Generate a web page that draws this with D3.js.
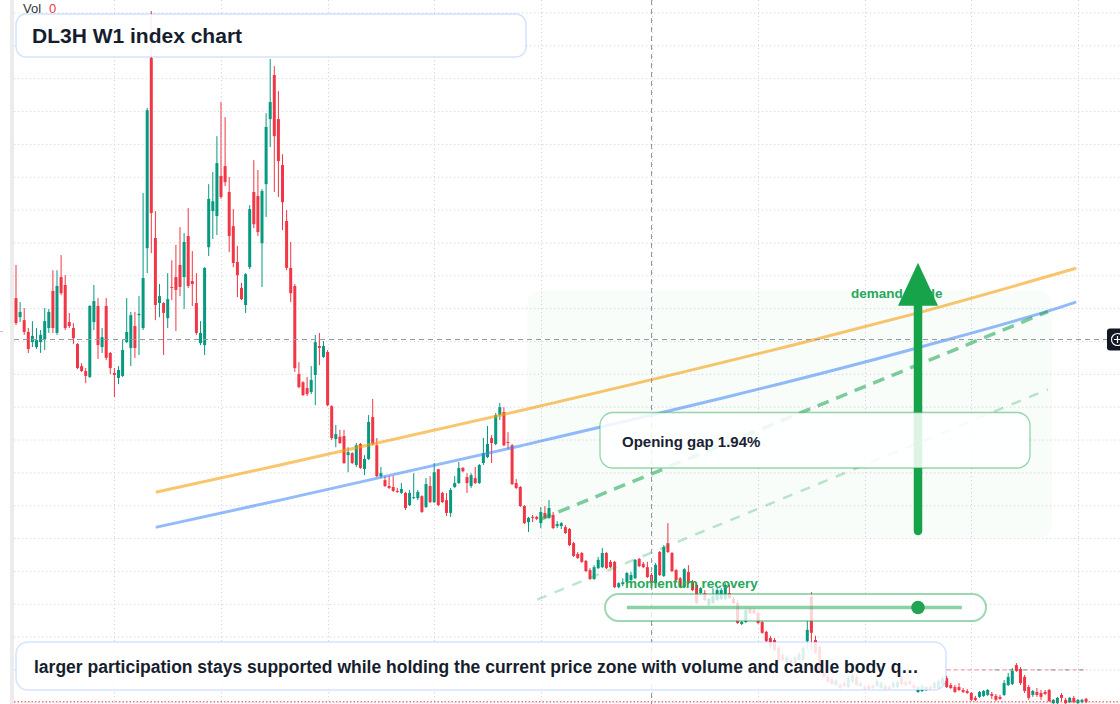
<!DOCTYPE html>
<html>
<head>
<meta charset="utf-8">
<script src="https://cdn.jsdelivr.net/npm/d3@7"></script>
<style>
html, body { margin: 0; padding: 0; background: #fff; overflow: hidden; }
svg { display: block; font-family: "Liberation Sans", Arial, sans-serif; }
</style>
</head>
<body>
<script>
// weekly candles, oldest first
var opens = [163.2,157.4,156.5,152.9,149.8,148.3,149.8,150.7,154.1,165.4,152.6,169.6,167.2,155.9,154.1,149.2,142.5,141.0,139.2,155.9,
160.8,148.3,160.8,146.5,140.4,138.9,139.5,149.8,148.0,154.7,158.0,154.1,178.4,236.3,181.5,161.7,161.7,157.1,166.6,169.6,
173.3,169.6,182.1,168.4,161.7,149.5,148.9,178.7,189.7,188.2,200.4,203.4,195.5,185.1,174.2,166.3,161.1,172.6,195.5,194.3,
179.9,197.9,217.7,231.1,217.7,203.7,186.7,172.4,166.9,140.1,137.6,135.8,134.6,139.8,148.6,145.3,146.8,130.3,120.3,121.0,
121.2,115.4,116.0,112.4,118.8,111.2,114.2,127.0,118.4,109.0,107.8,106.0,105.7,104.5,103.9,103.9,100.2,102.3,102.3,102.9,
99.6,106.0,101.1,111.1,103.9,101.7,97.8,105.7,106.9,111.5,108.7,106.0,108.4,106.9,113.0,114.8,120.6,118.8,127.6,128.5,
119.4,118.4,106.9,105.7,99.9,95.0,96.6,96.6,94.7,97.8,96.3,97.2,93.8,93.8,93.5,92.9,88.6,85.3,85.6,83.2,
80.4,77.7,81.0,81.3,85.6,82.9,82.9,75.2,76.1,76.7,77.4,77.9,83.8,82.3,81.3,78.9,76.4,85.9,78.6,88.6,
85.6,80.4,77.9,75.2,79.8,76.7,75.9,73.4,73.4,69.8,70.4,71.3,71.6,71.6,73.4,71.6,70.4,64.0,64.6,68.6,
68.2,67.3,64.6,61.6,59.7,59.1,56.7,54.5,52.4,53.0,52.1,53.0,53.0,58.8,72.2,59.1,57.0,49.1,47.9,47.2,
45.4,45.4,46.0,44.8,46.3,47.9,45.1,44.8,45.1,45.1,45.1,44.5,45.1,44.8,44.8,44.8,47.5,46.3,46.6,45.4,
43.3,43.6,43.9,44.8,44.5,44.5,45.7,47.5,45.4,44.8,44.8,43.9,43.6,43.0,41.5,41.8,42.1,42.4,42.7,42.1,
41.8,42.4,45.4,45.7,51.5,50.3,47.9,44.8,42.4,43.3,43.0,43.3,43.9,39.9,39.9,42.4,40.9,40.2,41.5,39.9,
40.2,41.2];
var highs = [173.3,162.0,160.2,154.1,156.2,154.1,153.5,160.2,159.9,171.7,171.7,176.3,170.2,158.7,155.6,149.5,143.4,141.9,161.1,167.2,
163.2,154.1,163.2,146.8,141.9,142.5,150.4,163.2,159.0,159.0,163.8,195.2,221.1,250.6,189.7,167.5,162.0,170.8,174.7,179.4,
184.8,183.0,190.6,177.5,170.8,156.2,172.6,197.9,201.6,212.5,222.9,218.3,200.1,190.3,179.1,167.8,170.8,191.5,205.2,202.2,
196.4,219.5,236.0,233.8,226.2,207.0,190.0,180.3,167.5,143.7,137.9,139.2,142.5,152.0,152.6,150.1,147.4,130.6,124.6,123.1,
123.1,117.8,116.3,119.1,119.1,115.4,127.6,132.5,120.6,111.8,109.0,109.0,109.0,105.4,106.9,104.2,104.8,109.9,104.8,103.2,
108.4,109.0,113.0,111.2,104.2,103.9,105.4,109.0,113.3,111.8,109.9,109.9,111.8,112.7,120.6,124.3,121.5,128.2,131.3,130.0,
122.4,118.8,108.1,106.0,100.2,96.6,97.2,96.9,99.6,99.9,101.7,98.1,95.3,95.0,94.1,93.2,89.0,85.9,85.9,83.5,
81.0,81.9,84.4,87.1,85.9,83.5,83.2,76.7,77.9,79.8,79.8,83.8,84.1,82.9,82.9,79.5,82.6,86.2,88.0,94.7,
85.9,80.7,78.3,81.0,81.9,77.4,76.4,75.2,74.3,71.9,74.9,74.9,74.9,76.4,75.9,72.2,71.3,64.9,68.9,69.2,
68.9,67.9,64.9,61.9,60.4,59.7,57.3,55.2,54.5,53.6,54.5,55.5,57.3,64.9,73.7,60.4,57.6,49.7,48.5,47.9,
47.2,46.0,46.6,48.2,49.1,48.5,46.6,45.4,45.7,45.7,47.2,46.6,45.7,45.4,46.6,46.9,48.2,46.9,47.2,46.0,
45.1,45.7,45.1,45.4,46.6,47.2,48.2,48.2,46.0,45.4,46.0,44.5,44.2,43.3,42.1,43.6,43.9,44.2,43.3,42.7,
42.4,46.9,49.1,50.6,52.1,50.9,48.5,45.4,43.9,44.5,43.9,43.9,44.2,41.2,41.8,43.0,41.5,41.8,42.1,41.2,
41.2,41.5];
var lows = [155.0,155.9,152.0,146.5,148.3,147.7,146.5,147.4,152.6,152.6,152.0,164.1,153.5,154.1,149.2,141.6,140.7,137.3,138.9,153.5,
144.7,146.5,144.3,140.1,133.1,137.0,139.2,149.5,142.5,145.0,145.9,153.5,170.8,176.9,156.5,157.4,145.9,154.1,162.6,153.2,
163.8,159.9,166.3,160.8,152.0,148.9,145.9,176.0,181.2,182.4,193.4,197.3,177.2,172.6,163.5,162.6,158.7,172.0,184.5,182.1,
166.6,187.9,209.2,195.5,194.0,183.9,171.7,162.0,140.7,135.8,133.4,133.4,134.0,130.6,142.8,145.0,130.3,120.0,117.8,118.8,
112.7,110.2,112.7,111.8,111.2,109.3,113.9,118.4,108.7,108.4,105.7,105.1,104.2,103.9,103.6,98.7,99.9,102.0,101.7,97.8,
99.3,100.8,100.8,99.9,100.8,96.9,96.6,105.4,106.6,110.2,103.9,105.4,106.6,106.6,112.4,114.5,113.0,118.4,126.1,118.1,
117.2,106.3,105.1,99.6,94.4,92.0,95.0,95.6,93.2,96.0,96.0,92.9,93.2,92.9,91.4,87.7,84.4,83.8,82.6,79.8,
77.4,77.4,80.7,81.0,80.7,81.0,74.9,74.9,75.5,76.4,76.7,77.7,81.3,81.0,78.0,76.4,76.1,78.6,78.3,85.6,
79.8,76.7,74.9,74.9,76.1,74.0,70.1,73.1,71.0,69.5,70.1,71.0,71.3,71.3,71.6,70.1,64.0,63.7,64.3,67.0,
67.0,64.0,61.0,58.5,56.7,55.8,52.7,52.7,52.1,51.8,51.8,52.7,52.7,56.4,56.1,54.9,48.8,47.6,46.0,45.4,
45.1,44.2,44.8,44.5,46.0,45.1,44.8,43.9,43.9,44.2,44.8,44.2,43.9,43.9,44.5,44.5,45.4,45.1,45.4,44.2,
43.0,43.3,43.6,43.9,44.2,44.2,45.4,44.5,44.2,43.0,43.6,43.0,42.7,40.5,40.5,41.5,41.8,42.1,41.2,40.5,
40.9,42.1,45.1,45.4,49.4,45.4,43.0,40.9,41.8,41.8,40.9,42.4,40.2,39.6,39.6,40.5,39.6,39.9,39.9,39.6,
39.9,39.9];
var closes = [155.6,159.0,152.9,147.7,151.7,150.4,152.0,156.2,159.0,154.1,166.9,164.7,154.1,154.7,151.0,141.9,141.0,139.5,160.8,162.3,
148.9,151.3,145.0,141.9,139.8,141.3,147.4,152.9,158.0,148.0,158.4,169.3,220.4,189.1,161.1,163.8,158.7,162.9,166.3,165.7,
166.6,180.3,166.9,167.5,152.6,152.6,172.4,193.4,192.7,204.3,194.0,198.5,182.1,173.9,170.2,162.9,170.5,190.3,185.7,183.3,
195.8,215.3,222.9,212.5,204.9,192.4,172.4,164.7,141.9,136.1,133.7,134.0,138.3,149.8,148.0,148.6,130.6,120.6,121.8,119.1,
113.0,116.3,113.0,118.4,111.5,114.2,125.5,118.8,109.0,109.9,106.0,105.4,104.5,104.2,105.1,99.3,103.9,102.6,104.2,98.1,
106.6,101.1,110.2,100.2,101.1,97.8,104.8,106.9,111.5,110.5,106.9,109.3,106.9,112.4,116.0,118.8,119.1,127.6,130.0,118.4,
119.1,106.6,105.4,99.9,94.7,96.3,96.3,96.0,98.1,96.3,99.3,93.2,94.4,94.7,91.7,88.0,84.7,84.1,82.9,80.1,
77.7,81.3,83.5,85.6,81.0,81.3,75.2,76.4,76.7,79.5,78.9,83.5,81.6,81.3,78.3,76.7,82.0,78.9,87.4,85.9,
80.1,77.4,75.2,80.7,76.4,74.3,70.4,74.9,71.3,71.6,72.5,74.3,74.3,75.9,71.9,70.4,64.3,64.6,68.2,67.3,
67.3,64.3,61.3,58.8,57.3,56.1,53.0,53.0,53.9,52.1,53.9,54.9,56.7,62.2,61.3,55.2,49.1,47.9,46.3,45.7,
46.9,44.5,45.1,47.5,48.5,45.4,46.0,44.2,44.2,44.5,46.6,46.0,44.2,44.2,46.0,46.3,45.7,45.4,45.7,44.5,
44.8,45.1,44.8,44.2,46.0,46.6,47.5,44.8,44.5,43.3,43.9,43.3,43.0,40.9,40.9,43.3,43.6,43.9,42.1,40.9,
41.2,46.0,47.9,49.7,49.7,46.0,43.6,41.5,43.6,42.4,41.8,42.7,40.5,40.9,41.5,41.5,39.9,41.5,40.2,40.9,
40.9,40.3];

var timeTicks = [24, 50, 76, 102, 128, 155, 181, 207, 233, 259];
var priceTicks = [40, 50, 60, 70, 80, 90, 100, 110, 120, 130, 140, 150, 160, 170, 180, 190, 200, 210, 220, 230, 240, 250];

// drawings: [candle index, price]
var orangeLine = [[34.4, 104.2], [64.4, 112.4], [122.9, 128.9], [196.1, 151.0], [220.0, 158.7], [258.3, 172.2]];
var blueLine = [[34.4, 93.5], [64.4, 101.7], [122.9, 118.2], [220.0, 148.1], [254.6, 160.4], [258.3, 161.9]];
var strongDash = [[127.8, 95.8], [251.7, 159.1]];
var faintDash = [[127.1, 71.4], [251.7, 135.4]];
var zoneIdx = [124.6, 252.7], zonePrice = [90.2, 165.4];
var arrowIdx = 220, arrowFrom = 92.3, arrowTo = 174.0;
var sliderIdx = [149.0, 230.7], sliderPrice = 69.0, sliderDot = 220;
var crossIdx = 154.9, crossPrice = 150.7;
var gapLevel = 50.0, gapIdx = [227, 261];

var W = 1120, H = 704;
var up = "#089981", down = "#f23645";

var svg = d3.select("body").append("svg")
    .attr("width", W)
    .attr("height", H);

var x = d3.scaleLinear().domain([0, opens.length - 1]).range([16, 1086.1]);
var y = d3.scaleLinear().domain([40, 250]).range([702.8, 13]);

// left strip
svg.append("rect").attr("x", 10).attr("y", 0).attr("width", 4).attr("height", H).attr("fill", "#ececec");
svg.append("line").attr("x1", 0).attr("x2", 3).attr("y1", 331.5).attr("y2", 331.5)
    .attr("stroke", "#c4c7cf").attr("stroke-width", 1);

// grid
var grid = svg.append("g").attr("stroke", "#d5d8df").attr("stroke-width", 1).attr("stroke-dasharray", "1.3,2.7");
grid.selectAll(".h").data(priceTicks).enter().append("line")
    .attr("x1", 14).attr("x2", W)
    .attr("y1", function(d) { return y(d); })
    .attr("y2", function(d) { return y(d); });
grid.selectAll(".v").data(timeTicks).enter().append("line")
    .attr("x1", function(d) { return Math.round(x(d)) + 0.5; })
    .attr("x2", function(d) { return Math.round(x(d)) + 0.5; })
    .attr("y1", 0).attr("y2", H);

// shaded zone
svg.append("rect")
    .attr("x", x(zoneIdx[0])).attr("y", y(zonePrice[1]))
    .attr("width", x(zoneIdx[1]) - x(zoneIdx[0]))
    .attr("height", y(zonePrice[0]) - y(zonePrice[1]))
    .attr("rx", 14)
    .attr("fill", "rgba(34,197,94,0.03)");

// candles
var candles = opens.map(function(o, i) {
    return { i: i, o: o, h: highs[i], l: lows[i], c: closes[i] };
});
var cg = svg.append("g");
var node = cg.selectAll(".c").data(candles).enter().append("g");
node.append("rect")
    .attr("x", function(d) { return x(d.i) - 0.5; })
    .attr("width", 1)
    .attr("y", function(d) { return y(d.h); })
    .attr("height", function(d) { return Math.max(1, y(d.l) - y(d.h)); })
    .attr("fill", function(d) { return d.c >= d.o ? up : down; });
node.append("rect")
    .attr("x", function(d) { return x(d.i) - 1.5; })
    .attr("width", 3)
    .attr("y", function(d) { return y(Math.max(d.o, d.c)); })
    .attr("height", function(d) { return Math.max(1, Math.abs(y(d.o) - y(d.c))); })
    .attr("fill", function(d) { return d.c >= d.o ? up : down; });

// last price line
var last = closes[closes.length - 1];
svg.append("line").attr("x1", 14).attr("x2", W)
    .attr("y1", y(last)).attr("y2", y(last))
    .attr("stroke", down).attr("stroke-width", 1).attr("stroke-dasharray", "1.5,2");

// gap level
svg.append("line").attr("x1", x(gapIdx[0])).attr("x2", x(gapIdx[1]) + 1)
    .attr("y1", y(gapLevel)).attr("y2", y(gapLevel))
    .attr("stroke", "rgba(242,54,69,0.45)").attr("stroke-width", 1.2).attr("stroke-dasharray", "4,3");
svg.append("line").attr("x1", x(gapIdx[0] + 9)).attr("x2", x(gapIdx[1]) + 1)
    .attr("y1", y(gapLevel)).attr("y2", y(gapLevel))
    .attr("stroke", "rgba(8,153,129,0.45)").attr("stroke-width", 1.2).attr("stroke-dasharray", "4,10").attr("stroke-dashoffset", 3);

// trend lines
var line = d3.line()
    .x(function(d) { return x(d[0]); })
    .y(function(d) { return y(d[1]); })
    .curve(d3.curveMonotoneX);
svg.append("path").attr("d", line(orangeLine)).attr("fill", "none")
    .attr("stroke", "rgba(245,158,11,0.6)").attr("stroke-width", 3).attr("stroke-linecap", "round");
svg.append("path").attr("d", line(blueLine)).attr("fill", "none")
    .attr("stroke", "rgba(59,130,246,0.55)").attr("stroke-width", 3).attr("stroke-linecap", "round");
svg.append("path").attr("d", line(strongDash)).attr("fill", "none")
    .attr("stroke", "rgba(22,163,74,0.55)").attr("stroke-width", 3.5).attr("stroke-dasharray", "12,8");
svg.append("path").attr("d", line(faintDash)).attr("fill", "none")
    .attr("stroke", "rgba(22,163,74,0.28)").attr("stroke-width", 2.5).attr("stroke-dasharray", "10,9");

// crosshair
var ch = svg.append("g").attr("stroke", "#9598a1").attr("stroke-width", 1).attr("stroke-dasharray", "5,4");
ch.append("line").attr("x1", 14).attr("x2", W).attr("y1", Math.round(y(crossPrice)) + 0.5).attr("y2", Math.round(y(crossPrice)) + 0.5);
ch.append("line").attr("x1", Math.round(x(crossIdx)) + 0.5).attr("x2", Math.round(x(crossIdx)) + 0.5).attr("y1", 0).attr("y2", H);

// demand label + arrow
svg.append("text").attr("x", 851).attr("y", 298)
    .attr("font-size", 13.5).attr("font-weight", "bold").attr("fill", "#27a85c")
    .text("demand guide");
var ax = x(arrowIdx);
svg.append("line").attr("x1", ax).attr("x2", ax)
    .attr("y1", y(arrowFrom)).attr("y2", y(arrowTo) + 40)
    .attr("stroke", "#16a34a").attr("stroke-width", 8.5).attr("stroke-linecap", "round");
svg.append("path")
    .attr("d", "M" + ax + "," + y(arrowTo) + "L" + (ax + 20) + "," + (y(arrowTo) + 43) + "L" + (ax - 20) + "," + (y(arrowTo) + 43) + "Z")
    .attr("fill", "#16a34a");

// opening gap box
svg.append("rect").attr("x", 600).attr("y", 412.5).attr("width", 430).attr("height", 55.5).attr("rx", 13)
    .attr("fill", "rgba(255,255,255,0.86)").attr("stroke", "rgba(22,163,74,0.45)").attr("stroke-width", 1.3);
svg.append("text").attr("x", 622).attr("y", 447).attr("font-size", 15).attr("font-weight", "bold")
    .attr("fill", "#1a2233").text("Opening gap 1.94%");

// slider
svg.append("rect").attr("x", 605).attr("y", 594).attr("width", 381).attr("height", 27).attr("rx", 13.5)
    .attr("fill", "rgba(255,255,255,0.78)").attr("stroke", "rgba(22,163,74,0.42)").attr("stroke-width", 2);
svg.append("line").attr("x1", x(sliderIdx[0])).attr("x2", x(sliderIdx[1]))
    .attr("y1", y(sliderPrice)).attr("y2", y(sliderPrice))
    .attr("stroke", "rgba(22,163,74,0.5)").attr("stroke-width", 3.5);
svg.append("circle").attr("cx", x(sliderDot)).attr("cy", y(sliderPrice)).attr("r", 6.8).attr("fill", "#22a552");
svg.append("text").attr("x", 625).attr("y", 587.5)
    .attr("font-size", 13.5).attr("font-weight", "bold").attr("fill", "#27a85c")
    .text("momentum recovery");

// title box
svg.append("rect").attr("x", 16).attr("y", 14).attr("width", 510).attr("height", 43).attr("rx", 10)
    .attr("fill", "rgba(255,255,255,0.9)").attr("stroke", "rgba(59,130,246,0.22)").attr("stroke-width", 1.5);
svg.append("text").attr("x", 32).attr("y", 43.3).attr("font-size", 21).attr("font-weight", "bold")
    .attr("fill", "#161e2e").text("DL3H W1 index chart");

// note box
svg.append("rect").attr("x", 16).attr("y", 642).attr("width", 930).attr("height", 48).attr("rx", 12)
    .attr("fill", "rgba(255,255,255,0.86)").attr("stroke", "rgba(59,130,246,0.22)").attr("stroke-width", 1.5);
svg.append("text").attr("x", 34).attr("y", 672.5).attr("font-size", 17.5).attr("font-weight", "bold")
    .attr("fill", "#161e2e")
    .text("larger participation stays supported while holding the current price zone with volume and candle body q\u2026");

// volume legend
var leg = svg.append("text").attr("x", 23).attr("y", 13).attr("font-size", 13);
leg.append("tspan").attr("fill", "#333").text("Vol");
leg.append("tspan").attr("dx", 8).attr("fill", down).text("0");

// crosshair button at the right edge
var cy = Math.round(y(crossPrice)) + 0.5;
svg.append("rect").attr("x", 1107).attr("y", cy - 11).attr("width", 20).attr("height", 22).attr("rx", 3).attr("fill", "#131722");
svg.append("circle").attr("cx", 1117.5).attr("cy", cy).attr("r", 6).attr("fill", "none").attr("stroke", "#fff").attr("stroke-width", 1.2);
svg.append("path").attr("d", "M1114," + cy + "H1121M1117.5," + (cy - 3.5) + "V" + (cy + 3.5))
    .attr("stroke", "#fff").attr("stroke-width", 1.2);
</script>
</body>
</html>
